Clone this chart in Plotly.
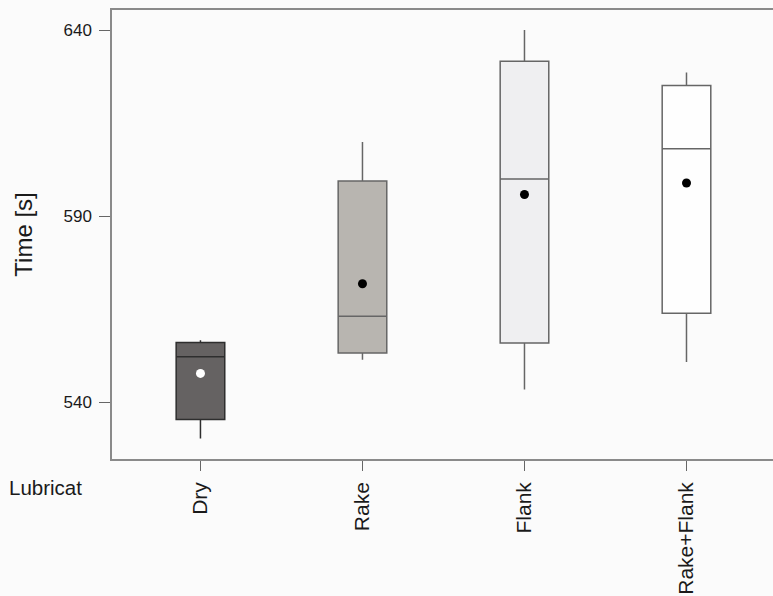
import plotly.graph_objects as go

categories = ["Dry", "Rake", "Flank", "Rake+Flank"]
lower_whisker = [530.3, 551.5, 543.5, 550.9]
q1_values = [535.4, 553.3, 556.0, 564.0]
median_values = [552.3, 563.2, 600.1, 608.2]
q3_values = [556.1, 599.5, 631.7, 625.2]
upper_whisker = [556.7, 610.0, 640.1, 628.7]
mean_values = [547.8, 571.9, 595.9, 599.0]
y_ticks = [540, 590, 640]

fills = ["#656262", "#b8b5b0", "#efeff1", "#fefefe"]
lines = ["#2e2e2e", "#666666", "#666666", "#666666"]
mean_colors = ["#ffffff", "#000000", "#000000", "#000000"]

fig = go.Figure()
for i, cat in enumerate(categories):
    fig.add_trace(go.Box(
        x=[cat], q1=[q1_values[i]], median=[median_values[i]], q3=[q3_values[i]],
        lowerfence=[lower_whisker[i]], upperfence=[upper_whisker[i]],
        fillcolor=fills[i], line=dict(color=lines[i], width=1.5),
        whiskerwidth=0, width=0.3, boxpoints=False, showlegend=False,
        hoverinfo="skip",
    ))
fig.add_trace(go.Scatter(
    x=categories, y=mean_values, mode="markers",
    marker=dict(color=mean_colors, size=9, line=dict(width=0)),
    showlegend=False, hoverinfo="skip",
))

bg = "#fbfbfb"
fig.update_layout(
    width=773, height=596,
    margin=dict(l=112, r=0, t=10, b=137),
    paper_bgcolor=bg, plot_bgcolor=bg,
    font=dict(family="Liberation Sans, Arial, sans-serif", color="#1a1a1a"),
    xaxis=dict(
        type="category", categoryorder="array", categoryarray=categories,
        range=[-0.546, 3.534], showgrid=False, zeroline=False,
        showline=True, linecolor="#8a8a8a", linewidth=1.5, mirror=True,
        ticks="outside", ticklen=10, tickcolor="#666", tickwidth=1,
        tickangle=-90, tickfont=dict(size=21, color="#1a1a1a"),
        ticklabelstandoff=3,
    ),
    yaxis=dict(
        range=[524.8, 645.5], tickvals=y_ticks, showgrid=False, zeroline=False,
        showline=True, linecolor="#8a8a8a", linewidth=1.5,
        ticks="outside", ticklen=11, tickcolor="#666", tickwidth=1,
        tickfont=dict(size=17, color="#1a1a1a"), ticklabelstandoff=4,
        title=dict(text="Time [s]", font=dict(size=24, color="#1a1a1a"), standoff=24),
    ),
    annotations=[dict(
        text="Lubricat", xref="paper", yref="paper", x=0, y=0,
        xanchor="right", yanchor="middle", xshift=-28, yshift=-28,
        showarrow=False, font=dict(size=20.5, color="#1a1a1a"),
    )],
)

fig.write_html("out.html", config={"displayModeBar": False})

with open("out.html", "r", encoding="utf-8") as f:
    html = f.read()
html = html.replace("<head>", "<head><style>html,body{margin:0;padding:0;background:#fbfbfb;overflow:hidden;}</style>", 1)
with open("out.html", "w", encoding="utf-8") as f:
    f.write(html)
